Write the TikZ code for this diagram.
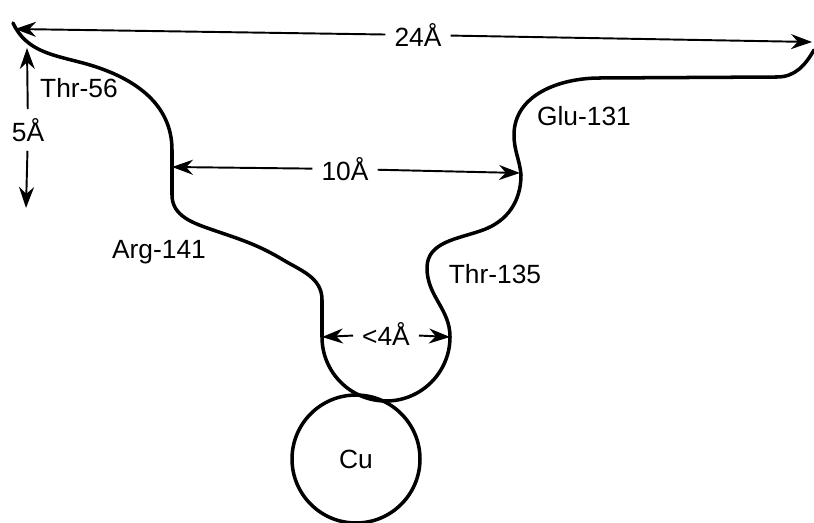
\documentclass[tikz,border=0pt]{standalone}
\usepackage{fontspec}
\setmainfont{Liberation Sans}
\usepackage{tikz}
\usetikzlibrary{arrows.meta}
\tikzstyle{chain} = [line width=2pt, line cap=round, line join=round]
\tikzstyle{dimarrow} = [line width=1.1pt, -{Stealth[length=0.42cm, width=0.3cm]}]
\tikzstyle{resname} = [font=\fontsize{15}{18}\selectfont, inner sep=0pt]
\tikzstyle{dimtext} = [font=\fontsize{15}{18}\selectfont, inner sep=5pt]
\tikzstyle{metal} = [circle, draw, line width=2pt, minimum size=2.56cm, font=\fontsize{15}{18}\selectfont]

\begin{document}
\begin{tikzpicture}[x=0.02cm, y=0.02cm]
\useasboundingbox (0,-523) rectangle (814,0);

% outline of the pocket
\draw [chain] (13,-23) to[out=-65,in=165] (83,-63) to[out=-15,in=90] (172,-150) -- (172,-195)
  to[out=-90,in=161] (213,-230) to[out=-19,in=150] (280,-258) to[out=-32,in=90] (322,-300) -- (322,-337)
  arc[start angle=180, end angle=360, radius=64] to[out=90,in=-90] (427,-268)
  to[out=90,in=200] (483,-230) to[out=20,in=-90] (521,-175) to[out=95,in=-90] (514,-135)
  to[out=90,in=180] (600,-78) -- (777,-77) to[out=0,in=240] (814,-50);

\node (cu) [metal] at (356,-459) {Cu};

\node (thr56) [resname] at (79,-88) {Thr-56};
\node (glu131) [resname] at (584,-116) {Glu-131};
\node (arg141) [resname] at (159,-252) {Arg-141};
\node (thr135) [resname] at (495,-274) {Thr-135};

% distances
\node (d24) [dimtext] at (418,-35) {24Å};
\coordinate (d24l) at (15,-29);
\coordinate (d24r) at (812,-42);
\node (d5) [dimtext] at (28,-130) {5Å};
\coordinate (d5t) at (27,-48);
\coordinate (d5b) at (26,-208);
\node (d10) [dimtext] at (345,-169) {10Å};
\coordinate (d10l) at (172,-167);
\coordinate (d10r) at (520,-173);
\node (d4) [dimtext] at (386,-334) {<4Å};
\coordinate (d4l) at (322,-337);
\coordinate (d4r) at (450,-337);

\draw [dimarrow] (d24) -- (d24l);
\draw [dimarrow] (d24) -- (d24r);
\draw [dimarrow] (d5) -- (d5t);
\draw [dimarrow] (d5) -- (d5b);
\draw [dimarrow] (d10) -- (d10l);
\draw [dimarrow] (d10) -- (d10r);
\draw [dimarrow] (d4) -- (d4l);
\draw [dimarrow] (d4) -- (d4r);

\end{tikzpicture}
\end{document}
